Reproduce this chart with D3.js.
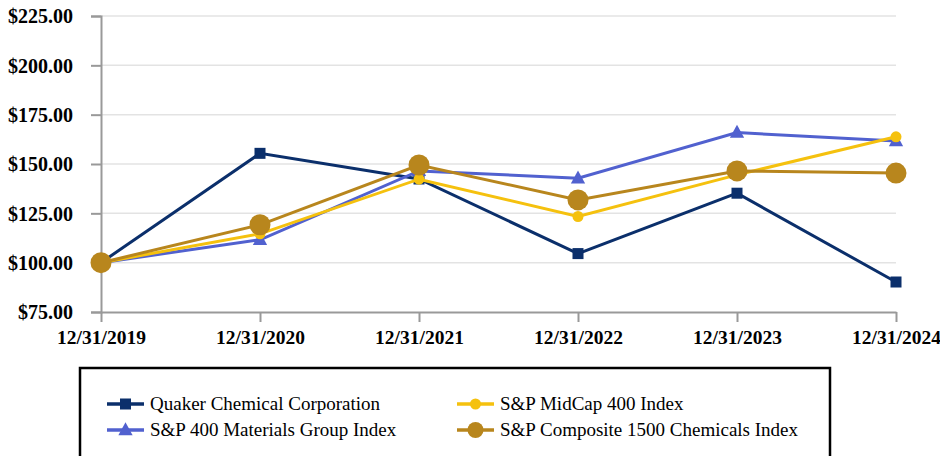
<!DOCTYPE html>
<html>
<head>
<meta charset="utf-8">
<script src="https://cdn.jsdelivr.net/npm/d3@7"></script>
<style>
  html, body { margin: 0; padding: 0; background: #fff; }
  svg { display: block; }
</style>
</head>
<body>
<svg id="chart" width="940" height="456"></svg>
<script>
const years = ["12/31/2019", "12/31/2020", "12/31/2021", "12/31/2022", "12/31/2023", "12/31/2024"];
const yTicks = [75, 100, 125, 150, 175, 200, 225];
const quaker = [100, 155.4, 142.4, 104.6, 135.2, 90.2];
const materials = [100, 111.6, 146.5, 142.8, 165.9, 161.6];
const midcap = [100, 114.6, 142.3, 123.4, 144.5, 163.8];
const chemicals = [100, 119.2, 149.5, 131.8, 146.5, 145.4];
const seriesNames = ["Quaker Chemical Corporation", "S&P 400 Materials Group Index", "S&P MidCap 400 Index", "S&P Composite 1500 Chemicals Index"];

const FONT = '"Liberation Serif"';

const series = [
  { name: seriesNames[0], values: quaker, color: "#0b2f6b", marker: "square", size: 11 },
  { name: seriesNames[1], values: materials, color: "#5161cf", marker: "triangle", size: 13 },
  { name: seriesNames[2], values: midcap, color: "#f5c10e", marker: "circle", size: 11 },
  { name: seriesNames[3], values: chemicals, color: "#b8861d", marker: "circle", size: 21 }
];

const svg = d3.select("#chart");
const x = d3.scalePoint().domain(years).range([101, 896]);
const y = d3.scaleLinear().domain([75, 225]).range([312, 16]);

// gridlines
svg.append("g").selectAll("line").data(yTicks.slice(1)).join("line")
  .attr("x1", 101).attr("x2", 896)
  .attr("y1", d => y(d)).attr("y2", d => y(d))
  .attr("stroke", "#e3e3e3").attr("stroke-width", 1.5);

// y axis
const yAxis = svg.append("g").attr("transform", "translate(101,0)")
  .call(d3.axisLeft(y).tickValues(yTicks).tickSize(10).tickPadding(18).tickFormat(d => "$" + d3.format(".2f")(d)));
yAxis.attr("font-family", null).attr("font-size", null);
yAxis.select(".domain").attr("stroke", "#999").attr("stroke-width", 2);
yAxis.selectAll(".tick line").attr("stroke", "#999").attr("stroke-width", 2);
yAxis.selectAll("text")
  .style("font-family", FONT).style("font-weight", "bold").style("font-size", "20px")
  .attr("fill", "#000").attr("dy", "0.34em");

// x axis
const xAxis = svg.append("g").attr("transform", "translate(0,312)")
  .call(d3.axisBottom(x).tickSize(10).tickPadding(8).tickSizeOuter(0));
xAxis.attr("font-family", null).attr("font-size", null);
xAxis.select(".domain").attr("stroke", "#999").attr("stroke-width", 2);
xAxis.selectAll(".tick line").attr("stroke", "#999").attr("stroke-width", 2);
xAxis.selectAll("text")
  .style("font-family", FONT).style("font-weight", "bold").style("font-size", "19.5px")
  .attr("fill", "#000");

const line = d3.line().x((d, i) => x(years[i])).y(d => y(d));

function drawMarker(g, s, cx, cy) {
  if (s.marker === "square") {
    g.append("rect").attr("x", cx - s.size / 2).attr("y", cy - s.size / 2)
      .attr("width", s.size).attr("height", s.size).attr("fill", s.color);
  } else if (s.marker === "triangle") {
    const h = s.size;
    g.append("path").attr("d", `M${cx},${cy - h * 0.6}L${cx + h * 0.55},${cy + h * 0.4}L${cx - h * 0.55},${cy + h * 0.4}Z`)
      .attr("fill", s.color);
  } else {
    g.append("circle").attr("cx", cx).attr("cy", cy).attr("r", s.size / 2).attr("fill", s.color);
  }
}

series.forEach(s => {
  const g = svg.append("g");
  g.append("path").datum(s.values).attr("d", line).attr("fill", "none")
    .attr("stroke", s.color).attr("stroke-width", 3);
  s.values.forEach((v, i) => drawMarker(g, s, x(years[i]), y(v)));
});

// legend
svg.append("rect").attr("x", 80).attr("y", 368).attr("width", 750).attr("height", 100)
  .attr("fill", "none").attr("stroke", "#000").attr("stroke-width", 2.5);

const legPos = [
  { x: 107, y: 404 }, { x: 107, y: 430 }, { x: 457, y: 404 }, { x: 457, y: 430 }
];
series.forEach((s, i) => {
  const p = legPos[i];
  const g = svg.append("g");
  g.append("line").attr("x1", p.x).attr("x2", p.x + 37).attr("y1", p.y).attr("y2", p.y)
    .attr("stroke", s.color).attr("stroke-width", 3.5);
  const ls = Object.assign({}, s, { size: s.marker === "circle" && s.size > 15 ? 16 : s.size });
  drawMarker(g, ls, p.x + 18.5, p.y);
  g.append("text").attr("x", p.x + 43).attr("y", p.y + 6)
    .style("font-family", FONT).style("font-size", "19px")
    .attr("fill", "#000").text(s.name);
});
</script>
</body>
</html>
